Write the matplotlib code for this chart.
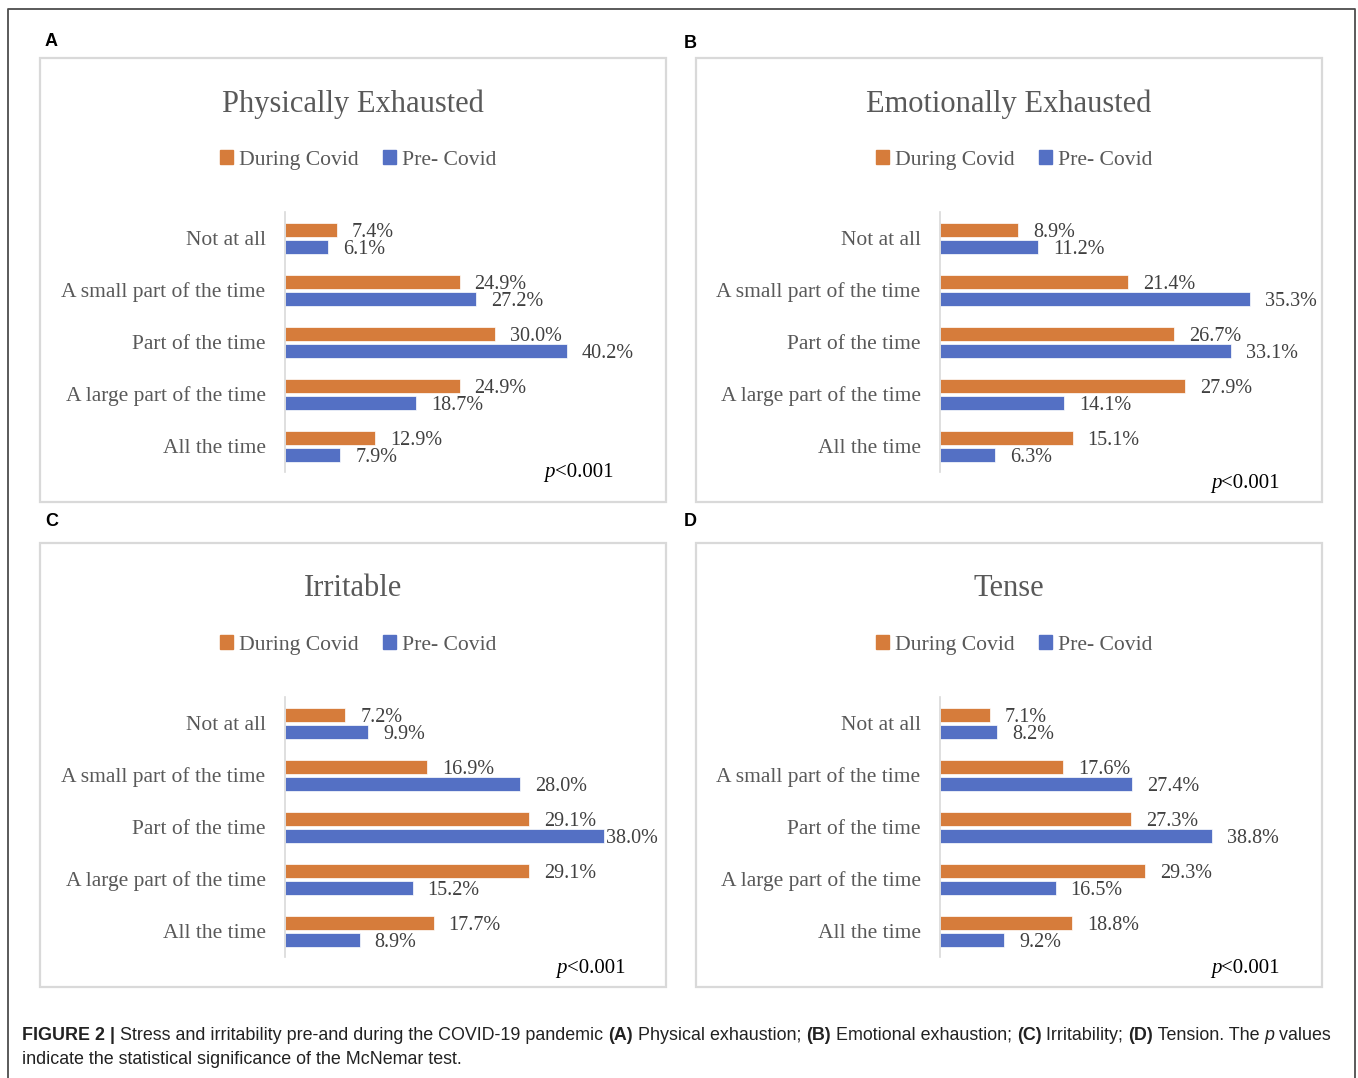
import numpy as np
import matplotlib.pyplot as plt
from matplotlib.patches import Rectangle, Patch
from matplotlib.lines import Line2D

# ---- data ----
categories = ['Not at all', 'A small part of the time', 'Part of the time',
              'A large part of the time', 'All the time']
series_names = ['During Covid', 'Pre- Covid']
titles = ['Physically Exhausted', 'Emotionally Exhausted', 'Irritable', 'Tense']
panel_letters = ['A', 'B', 'C', 'D']
p_values = ['<0.001', '<0.001', '<0.001', '<0.001']

during_physical = [7.4, 24.9, 30.0, 24.9, 12.9]
pre_physical = [6.1, 27.2, 40.2, 18.7, 7.9]
during_emotional = [8.9, 21.4, 26.7, 27.9, 15.1]
pre_emotional = [11.2, 35.3, 33.1, 14.1, 6.3]
during_irritable = [7.2, 16.9, 29.1, 29.1, 17.7]
pre_irritable = [9.9, 28.0, 38.0, 15.2, 8.9]
during_tense = [7.1, 17.6, 27.3, 29.3, 18.8]
pre_tense = [8.2, 27.4, 38.8, 16.5, 9.2]

during_all = [during_physical, during_emotional, during_irritable, during_tense]
pre_all = [pre_physical, pre_emotional, pre_irritable, pre_tense]

# ---- style ----
ORANGE = '#D67C3B'
BLUE = '#5470C4'
GREY_TXT = '#595959'
LABEL_TXT = '#404040'
SERIF = ['Liberation Serif', 'DejaVu Serif']
SANS = ['Liberation Sans', 'DejaVu Sans']

W, H = 1358, 1078
fig = plt.figure(figsize=(W / 100, H / 100), dpi=100)
renderer = fig.canvas.get_renderer()


def fx(x):
    return x / W


def fy(y):
    return 1 - y / H


def draw_runs(x, y, runs, align='left', **common):
    # place a list of (text, props) pieces one after another on one baseline
    texts = []
    for s, kw in runs:
        t = fig.text(0, fy(y), s, va='baseline', **common, **kw)
        texts.append(t)
    widths = [t.get_window_extent(renderer).width for t in texts]
    start = x - sum(widths) if align == 'right' else x
    for t, w in zip(texts, widths):
        t.set_x(fx(start))
        start += w


# outer frame (top, left, right only)
fig.add_artist(Line2D([fx(8), fx(8), fx(1355), fx(1355)],
                      [fy(1078), fy(9), fy(9), fy(1078)],
                      transform=fig.transFigure, color='#4d4d4d', lw=1.3))

# panel layout in pixels: box, axis x, axis top, px per percent, p-value pos, letter pos
panels = [
    dict(box=(40, 58, 666, 502), ax_x=285, ax_top=212, scale=7.01, p=(613, 477), letter=(45, 41)),
    dict(box=(696, 58, 1322, 502), ax_x=940, ax_top=212, scale=8.78, p=(1280, 488), letter=(684, 44)),
    dict(box=(40, 543, 666, 987), ax_x=285, ax_top=697, scale=8.39, p=(625, 973), letter=(45, 522)),
    dict(box=(696, 543, 1322, 987), ax_x=940, ax_top=697, scale=7.01, p=(1280, 973), letter=(684, 521)),
]
label_gap = {(2, 2, 1): 2}  # the 38.0% label in C sits right at the bar end

y = np.arange(len(categories))
bar_h = 14 / 52
off = 8.5 / 52
ax_w, ax_h = 355, 260

for i, pn in enumerate(panels):
    x0, y0, x1, y1 = pn['box']
    fig.add_artist(Rectangle((fx(x0), fy(y1)), fx(x1 - x0), (y1 - y0) / H,
                             transform=fig.transFigure, fill=False,
                             edgecolor='#D9D9D9', lw=1.6))
    fig.text(fx(pn['letter'][0]), fy(pn['letter'][1]), panel_letters[i],
             family=SANS, weight='bold', fontsize=13, va='center', ha='left', color='black')

    cx = (x0 + x1) / 2
    fig.text(fx(cx), fy(y0 + 46), titles[i], family=SERIF, fontsize=22,
             color=GREY_TXT, ha='center', va='center')

    ax = fig.add_axes([fx(pn['ax_x']), fy(pn['ax_top'] + ax_h), ax_w / W, ax_h / H])
    ax.barh(y - off, during_all[i], height=bar_h, color=ORANGE, edgecolor='white', lw=0.5,
            label=series_names[0])
    ax.barh(y + off, pre_all[i], height=bar_h, color=BLUE, edgecolor='white', lw=0.5,
            label=series_names[1])
    ax.set_xlim(0, ax_w / pn['scale'])
    ax.set_ylim(len(categories) - 0.5, -0.5)
    ax.set_yticks(y)
    ax.set_yticklabels(categories, family=SERIF, fontsize=15.5, color=GREY_TXT)
    ax.tick_params(axis='y', length=0, pad=14)
    ax.set_xticks([])
    for s in ['top', 'right', 'bottom']:
        ax.spines[s].set_visible(False)
    ax.spines['left'].set_color('#D9D9D9')
    ax.spines['left'].set_linewidth(1.2)
    ax.patch.set_alpha(0)

    for k, vals in enumerate([during_all[i], pre_all[i]]):
        for j, v in enumerate(vals):
            gap = label_gap.get((i, j, k), 15)
            ax.annotate(f'{v:.1f}%', (v, y[j] + (off if k else -off)),
                        xytext=(gap * 0.72, -2.2), textcoords='offset points',
                        ha='left', va='center', family=SERIF, fontsize=14.5, color=LABEL_TXT)

    handles = [Patch(color=ORANGE), Patch(color=BLUE)]
    fig.legend(handles, series_names, loc='center', bbox_to_anchor=(fx(cx + 5), fy(y0 + 102)),
               ncol=2, frameon=False, prop=dict(family=SERIF, size=15.6),
               labelcolor=GREY_TXT, handlelength=0.6, handleheight=0.6,
               handletextpad=0.3, columnspacing=1.1)

    draw_runs(pn['p'][0], pn['p'][1],
              [('p', dict(style='italic')), (p_values[i], {})],
              align='right', family=SERIF, fontsize=15, color='black')

# caption
cap = dict(family=SANS, fontsize=12.9, color='#222222')
bold = dict(weight='bold')
draw_runs(22, 1040, [
    ('FIGURE 2 | ', bold),
    ('Stress and irritability pre-and during the COVID-19 pandemic ', {}),
    ('(A)', bold), (' Physical exhaustion; ', {}),
    ('(B)', bold), (' Emotional exhaustion; ', {}),
    ('(C)', bold), (' Irritability; ', {}),
    ('(D)', bold), (' Tension. The ', {}),
    ('p', dict(style='italic')), (' values', {}),
], **cap)
draw_runs(22, 1064, [('indicate the statistical significance of the McNemar test.', {})], **cap)

fig.savefig('out.png', dpi=100)
